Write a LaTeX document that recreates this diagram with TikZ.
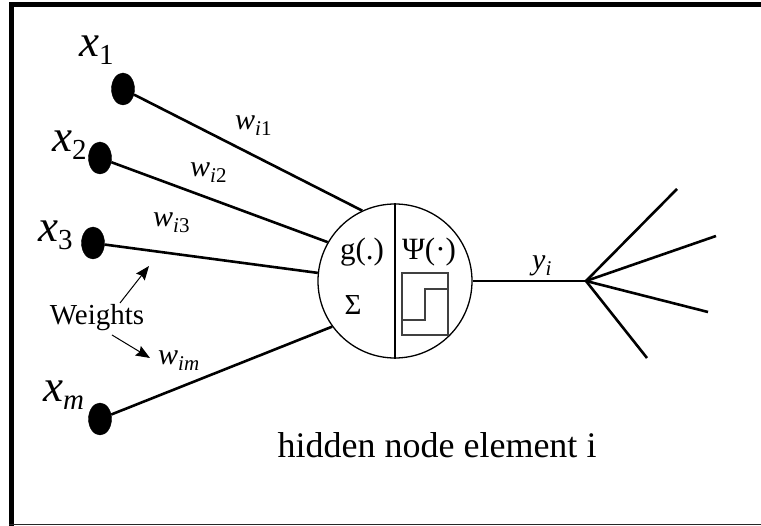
\documentclass[tikz,border=0pt]{standalone}
\usepackage{fontspec}
\setmainfont{Liberation Serif}
\usetikzlibrary{shapes.geometric,arrows.meta}
\newcommand{\fs}[1]{\fontsize{#1}{#1}\selectfont}
\newcommand{\xlab}[1]{{\fs{45}\itshape x}\raisebox{-8pt}{\fs{29}#1}}
\newcommand{\wlab}[1]{{\fs{30}\itshape w}\raisebox{-6pt}{\fs{21}#1}}
\begin{document}
\begin{tikzpicture}[x=1pt,y=-1pt,
  dot/.style={ellipse,fill=black,draw=black,minimum width=23pt,minimum height=32pt,inner sep=0pt},
  inline/.style={line width=2.6pt},
  lab/.style={inner sep=0pt,anchor=base west},
  arr/.style={line width=1pt,-{Stealth[length=14pt,width=11pt,inset=2pt]}}]
\fill[white] (0,0) rectangle (761,526);
\useasboundingbox (0,0) rectangle (761,526);
% frame
\fill[black] (9,2) rectangle (14,526);
\fill[black] (9,2) rectangle (761,7);
\draw[line width=1.2pt,black!85] (9,524.6) -- (761,524.6);
% neuron
\node[circle,draw,line width=1.3pt,minimum size=154pt,inner sep=0pt] (n) at (395,281) {};
\draw[line width=1.3pt] (n.north) -- (n.south);
\node[inner sep=0pt] (g) at (362,252) {\fs{31}g(.)};
\node[inner sep=0pt] (psi) at (429,252) {\fs{31}Ψ(·)};
\node[inner sep=0pt] (sig) at (353,305) {\fs{29}Σ};
\draw[line width=1.1pt,black!75] (402,273) rectangle (448,335);
\draw[line width=1.1pt,black!75] (402,320) -- (425,320) -- (425,289) -- (448,289);
% inputs
\node[dot] (d1) at (123,89) {};
\node[dot] (d2) at (100,158) {};
\node[dot] (d3) at (93,243) {};
\node[dot] (dm) at (100,419) {};
\draw[inline] (d1) -- (n.115);
\draw[inline] (d2) -- (n.150);
\draw[inline] (d3) -- (n.174);
\draw[inline] (dm) -- (n.216.5);
% input labels
\node[lab] (x1) at (79,57) {\xlab{1}};
\node[lab] (x2) at (52,152) {\xlab{2}};
\node[lab] (x3) at (38,242) {\xlab{3}};
\node[lab] (xm) at (43,402) {\xlab{\itshape m}};
\node[lab] (w1) at (235,130) {\wlab{\itshape i\upshape 1}};
\node[lab] (w2) at (190,177) {\wlab{\itshape i\upshape 2}};
\node[lab] (w3) at (153,227) {\wlab{\itshape i\upshape 3}};
\node[lab] (wm) at (158,365) {\wlab{\itshape im}};
\node[inner sep=1pt] (wt) at (97,318) {\fs{29}Weights};
\coordinate (a1) at (149,266);
\coordinate (a2) at (150,358);
\coordinate (s1) at (120,303);
\coordinate (s2) at (112,335);
\draw[arr] (s1) -- (a1);
\draw[arr] (s2) -- (a2);
% output
\coordinate (fan) at (586,281);
\draw[inline] (n.east) -- (fan);
\coordinate (f1) at (677,189);
\coordinate (f2) at (716,236);
\coordinate (f3) at (708,312);
\coordinate (f4) at (647,358);
\draw[inline] (fan) -- (f1);
\draw[inline] (fan) -- (f2);
\draw[inline] (fan) -- (f3);
\draw[inline] (fan) -- (f4);
\node[lab] (y) at (532,270) {{\fs{30}\itshape y}\raisebox{-6pt}{\fs{21}\itshape i}};
\node[inner sep=0pt,anchor=base] (cap) at (437,458) {\fs{36}hidden node element i};
\end{tikzpicture}
\end{document}
